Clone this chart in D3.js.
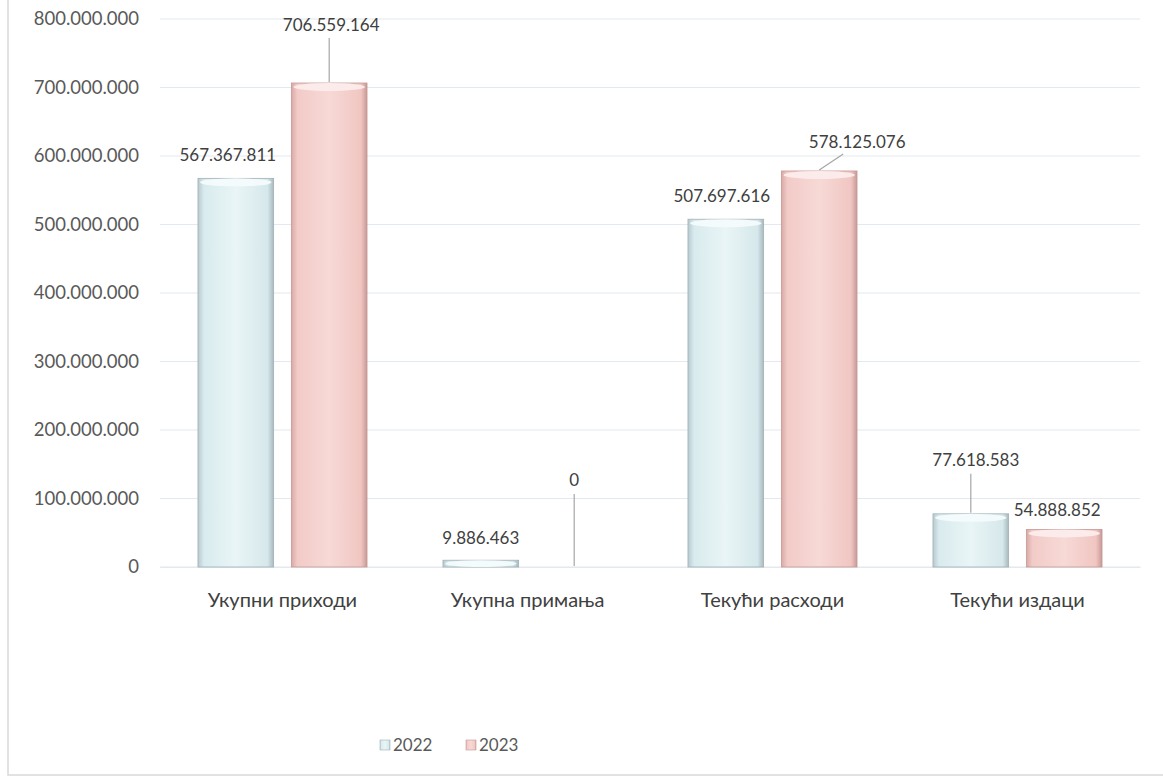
<!DOCTYPE html>
<html><head><meta charset="utf-8">
<script src="https://cdn.jsdelivr.net/npm/d3@7/dist/d3.min.js"></script>
<style>body{margin:0;background:#fff}svg{display:block}text{font-family:Lato,"Open Sans",sans-serif}</style>
</head><body><svg id="c" width="1163" height="781"></svg>
<script>
const categories = ["Укупни приходи","Укупна примања","Текући расходи","Текући издаци"];
const series = ["2022","2023"];
const values2022 = [567367811, 9886463, 507697616, 77618583];
const values2023 = [706559164, 0, 578125076, 54888852];
const yTicks = [0,100000000,200000000,300000000,400000000,500000000,600000000,700000000,800000000];

const svg = d3.select("#c");
const defs = svg.append("defs");
function grad(id, stops){
  const g = defs.append("linearGradient").attr("id",id).attr("x1","0").attr("x2","1").attr("y1","0").attr("y2","0");
  stops.forEach(s=>g.append("stop").attr("offset",s[0]).attr("stop-color",s[1]));
}
grad("g22",[[0,"#b9c9cf"],[0.08,"#d9ebee"],[0.5,"#e9f5f6"],[0.92,"#d6e8eb"],[1,"#a9b9bf"]]);
grad("g23",[[0,"#d9a9a6"],[0.08,"#f2cbc8"],[0.5,"#f7d9d6"],[0.92,"#f0c6c2"],[1,"#c99996"]]);
const fills = ["url(#g22)","url(#g23)"];
const tops = ["#f4fbfc","#fbeceb"];
const strokes = ["#9fb0b6","#c59894"];

// frame
svg.append("rect").attr("x",8).attr("y",-5).attr("width",1170).attr("height",780).attr("fill","none").attr("stroke","#d9d9d9").attr("stroke-width",1.5);

const x0 = 160, x1 = 1140;
const y = d3.scaleLinear().domain([0,800000000]).range([567,19]);
const xb = d3.scaleBand().domain(categories).range([x0,x1]).paddingInner(0.31).paddingOuter(0.155);
const xs = d3.scaleBand().domain(series).range([0,xb.bandwidth()]).paddingInner(0.19);

const fmt = v => d3.format(",")(v).replace(/,/g,".");

// grid
svg.append("g").selectAll("line").data(yTicks).join("line")
  .attr("x1",x0).attr("x2",x1).attr("y1",d=>y(d)).attr("y2",d=>y(d))
  .attr("stroke","#e3e9ee").attr("stroke-width",1.2);

// y axis
const ya = svg.append("g").attr("transform",`translate(${x0},0)`)
  .call(d3.axisLeft(y).tickValues(yTicks).tickSize(0).tickPadding(21).tickFormat(fmt));
ya.select(".domain").remove();
ya.selectAll("text").attr("font-size",18.5).attr("fill","#595959").attr("font-family","Lato,'Open Sans',sans-serif");

// x axis labels
const xa = svg.append("g").attr("transform",`translate(0,567)`)
  .call(d3.axisBottom(xb).tickSize(0).tickPadding(26));
xa.select(".domain").attr("stroke","#e3e9ee");
xa.selectAll("text").attr("font-size",20).attr("fill","#404040").attr("font-family","Lato,'Open Sans',sans-serif");

const data = categories.map((c,i)=>({c, vals:[values2022[i], values2023[i]]}));
const bars = [];
data.forEach(d=>d.vals.forEach((v,j)=>bars.push({c:d.c, s:series[j], j, v})));

const gb = svg.append("g");
bars.forEach(b=>{
  if (b.v<=0) return;
  const bx = xb(b.c)+xs(b.s), bw = xs.bandwidth();
  const yt = y(b.v), yb = y(0);
  const h = yb-yt;
  gb.append("rect").attr("x",bx).attr("y",yt).attr("width",bw).attr("height",h)
    .attr("fill",fills[b.j]).attr("stroke",strokes[b.j]).attr("stroke-width",0.8);
  const ch = Math.min(8, h);
  gb.append("ellipse").attr("cx",bx+bw/2).attr("cy",yt+ch/2).attr("rx",bw/2-2).attr("ry",ch/2)
    .attr("fill",tops[b.j]).attr("opacity",0.95);
});

// data label offsets (label centre relative to bar top centre) and leader lines
const labelPos = {
  "Укупни приходи|2022": {dx:-8, dy:-17, leader:null},
  "Укупни приходи|2023": {dx:2, dy:-52, leader:[0,-45]},
  "Укупна примања|2022": {dx:0, dy:-16, leader:null},
  "Укупна примања|2023": {dx:0, dy:-81, leader:[0,-73]},
  "Текући расходи|2022": {dx:-4, dy:-17, leader:null},
  "Текући расходи|2023": {dx:38, dy:-23, leader:[24,-17]},
  "Текући издаци|2022": {dx:5, dy:-48, leader:[0,-40]},
  "Текући издаци|2023": {dx:-7, dy:-13, leader:null}
};
const gl = svg.append("g");
bars.forEach(b=>{
  const key = b.c+"|"+b.s;
  const p = labelPos[key];
  const cx = xb(b.c)+xs(b.s)+xs.bandwidth()/2;
  const yt = y(b.v);
  if (p.leader){
    gl.append("line").attr("x1",cx).attr("y1",yt-1)
      .attr("x2",cx+p.leader[0]).attr("y2",yt+p.leader[1])
      .attr("stroke","#a6a6a6").attr("stroke-width",1.2);
  }
  gl.append("text").attr("x",cx+p.dx).attr("y",yt+p.dy).attr("text-anchor","middle")
    .attr("font-size",17).attr("fill","#404040").text(fmt(b.v));
});

// legend
const lg = svg.append("g").attr("transform","translate(380,745)");
series.forEach((s,i)=>{
  const g = lg.append("g").attr("transform",`translate(${i*86},0)`);
  g.append("rect").attr("x",0).attr("y",-5).attr("width",10).attr("height",10).attr("fill",fills[i]).attr("stroke",strokes[i]).attr("stroke-width",0.6);
  g.append("text").attr("x",13).attr("y",6).attr("font-size",17).attr("fill","#595959").text(s);
});
</script></body></html>
